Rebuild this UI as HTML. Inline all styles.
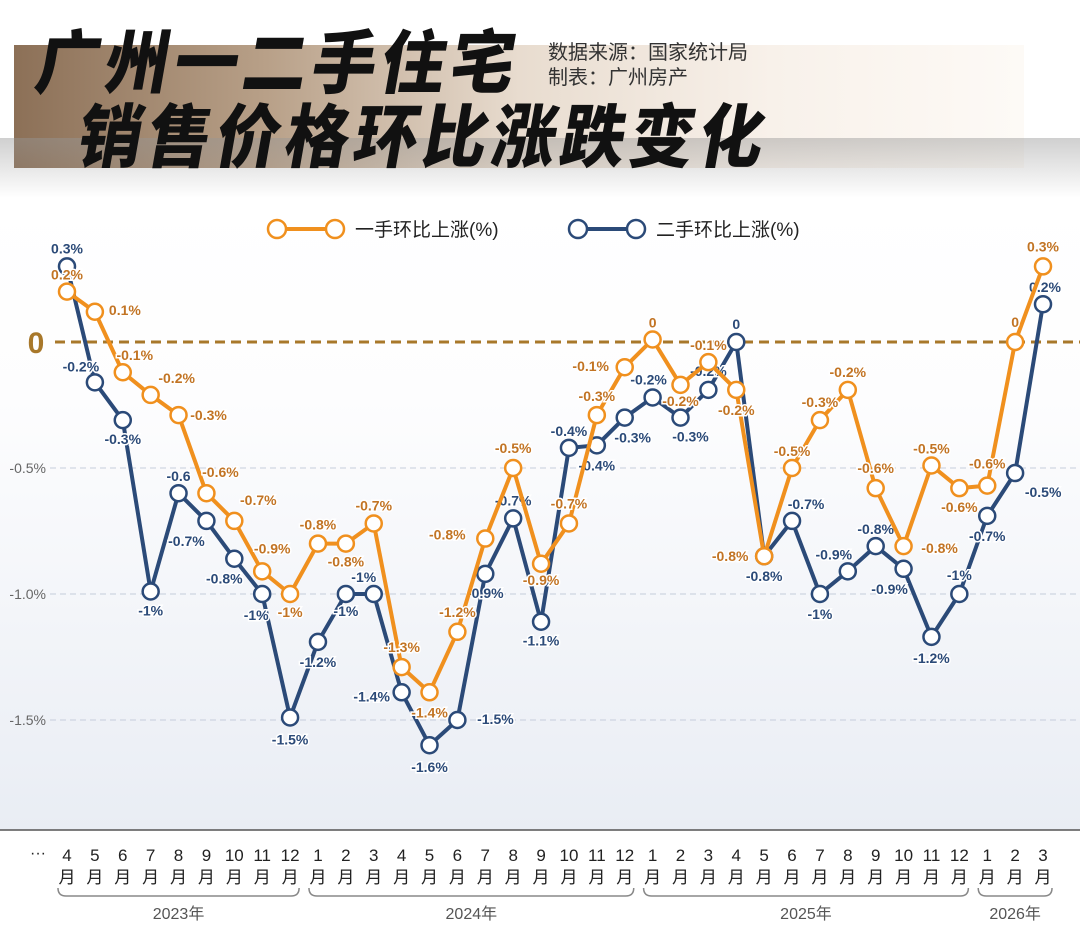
<!DOCTYPE html>
<html><head><meta charset="utf-8">
<style>
body{margin:0;width:1080px;height:934px;overflow:hidden;background:#fff;font-family:"Liberation Sans","Noto Sans CJK SC",sans-serif;}
#wrap{position:relative;width:1080px;height:934px;background:linear-gradient(#fff 0px,#fff 200px,#fdfdfe 400px,#e9edf4 830px,#fff 831px);}
.banner{position:absolute;left:14px;top:45px;width:1010px;height:123px;background:linear-gradient(90deg,#8c7057 0%,#b8a088 25%,#e8dccf 50%,#f8f1ea 75%,#fdfaf6 100%);}
.shade{position:absolute;left:0;top:138px;width:1080px;height:60px;background:linear-gradient(rgba(150,150,150,0.45),rgba(255,255,255,0));}
.t{position:absolute;font-family:"Noto Sans CJK SC","WenQuanYi Zen Hei",sans-serif;font-weight:900;color:#111;transform:skewX(-10deg) scaleY(1.08);transform-origin:left top;letter-spacing:5px;line-height:1;}
.src{position:absolute;left:548px;font-size:20px;color:#333;}
</style></head><body>
<div id="wrap">
<div class="banner"></div>
<div class="shade"></div>
<div class="t" style="left:44px;top:24px;font-size:64px;">广州一二手住宅</div>
<div class="t" style="left:86px;top:98px;font-size:64px;">销售价格环比涨跌变化</div>
<div class="src" style="top:36px;">数据来源：国家统计局</div>
<div class="src" style="top:61px;">制表：广州房产</div>
<svg id="chart" width="1080" height="934" style="position:absolute;left:0;top:0"></svg>
</div>
<script>
const months=["4","5","6","7","8","9","10","11","12","1","2","3","4","5","6","7","8","9","10","11","12","1","2","3","4","5","6","7","8","9","10","11","12","1","2","3"];
const newVals=[0.2,0.12,-0.12,-0.21,-0.29,-0.6,-0.71,-0.91,-1.0,-0.8,-0.8,-0.72,-1.29,-1.39,-1.15,-0.78,-0.5,-0.88,-0.72,-0.29,-0.1,0.01,-0.17,-0.08,-0.19,-0.85,-0.5,-0.31,-0.19,-0.58,-0.81,-0.49,-0.58,-0.57,0,0.3];
const oldVals=[0.3,-0.16,-0.31,-0.99,-0.6,-0.71,-0.86,-1.0,-1.49,-1.19,-1.0,-1.0,-1.39,-1.6,-1.5,-0.92,-0.7,-1.11,-0.42,-0.41,-0.3,-0.22,-0.3,-0.19,0,-0.85,-0.71,-1.0,-0.91,-0.81,-0.9,-1.17,-1.0,-0.69,-0.52,0.15];
const newLabels=["0.2%","0.1%","-0.1%","-0.2%","-0.3%","-0.6%","-0.7%","-0.9%","-1%","-0.8%","-0.8%","-0.7%","-1.3%","-1.4%","-1.2%","-0.8%","-0.5%","-0.9%","-0.7%","-0.3%","-0.1%","0","-0.2%","-0.1%","-0.2%","-0.8%","-0.5%","-0.3%","-0.2%","-0.6%","-0.8%","-0.5%","-0.6%","-0.6%","0","0.3%"];
const oldLabels=["0.3%","-0.2%","-0.3%","-1%","-0.6","-0.7%","-0.8%","-1%","-1.5%","-1.2%","-1%","-1%","-1.4%","-1.6%","-1.5%","-0.9%","-0.7%","-1.1%","-0.4%","-0.4%","-0.3%","-0.2%","-0.3%","-0.2%","0","-0.8%","-0.7%","-1%","-0.9%","-0.8%","-0.9%","-1.2%","-1%","-0.7%","-0.5%","0.2%"];
const yTicks=[-0.5,-1.0,-1.5];
const yTickLabels=["-0.5%","-1.0%","-1.5%"];
const years=["2023年","2024年","2025年","2026年"];
const yearCounts=[9,12,12,3];
// label offsets (layout only)
const newOff=[[0,-17],[30,-2],[12,-17],[26,-17],[30,0],[14,-21],[24,-21],[10,-23],[0,18],[0,-19],[0,18],[0,-18],[0,-20],[0,20],[0,-20],[-38,-4],[0,-20],[0,16],[0,-20],[0,-19],[-34,-1],[0,-17],[0,16],[0,-17],[0,20],[-34,0],[0,-17],[0,-18],[0,-18],[0,-20],[36,2],[0,-17],[0,19],[0,-22],[0,-20],[0,-20]];
const oldOff=[[0,-18],[-14,-16],[0,19],[0,19],[0,-17],[-20,20],[-10,20],[-6,21],[0,22],[0,20],[0,17],[-10,-17],[-30,4],[0,22],[38,-1],[0,19],[0,-18],[0,19],[0,-17],[0,20],[8,20],[-4,-18],[10,19],[0,-19],[0,-18],[0,20],[14,-17],[0,20],[-14,-17],[0,-17],[-14,20],[0,21],[0,-19],[0,20],[28,19],[2,-17]];
const NS="http://www.w3.org/2000/svg";
const svg=document.getElementById('chart');
const X=i=>67+i*27.886;
const Y=v=>342-v*252;
function mk(tag,attrs,parent){const e=document.createElementNS(NS,tag);for(const k in attrs)e.setAttribute(k,attrs[k]);(parent||svg).appendChild(e);return e;}
yTicks.forEach((v,i)=>{
 const l=mk('line',{x1:50,x2:1080,y1:Y(v),y2:Y(v),stroke:'#c5cddb','stroke-width':1,'stroke-dasharray':'6,4'});
 
 
 const t=mk('text',{x:46,y:Y(v)+5,'text-anchor':'end','font-size':14,fill:'#666'});t.textContent=yTickLabels[i];
 
 
});
const z=mk('line',{x1:55,x2:1080,y1:Y(0),y2:Y(0),stroke:'#a8782a','stroke-width':3,'stroke-dasharray':'10,6'});


const zt=mk('text',{x:36,y:Y(0)+11,'text-anchor':'middle','font-size':30,'font-weight':'bold',fill:'#a8782a'});zt.textContent='0';


function legend(x,col,txt,name){
 mk('line',{x1:x,x2:x+58,y1:229,y2:229,stroke:col,'stroke-width':4});
 mk('circle',{cx:x,cy:229,r:9,fill:'#fff',stroke:col,'stroke-width':2.5});
 mk('circle',{cx:x+58,cy:229,r:9,fill:'#fff',stroke:col,'stroke-width':2.5});
 const t=mk('text',{x:x+78,y:236,'font-size':19,fill:'#222'});t.textContent=txt;
 
 
}
legend(277,'#f0901e','一手环比上涨(%)','legend-new-home');
legend(578,'#2b4a78','二手环比上涨(%)','legend-resale-home');
function series(vals,labels,off,col,lcol,name){
 const p=mk('polyline',{points:vals.map((v,i)=>X(i)+','+Y(v)).join(' '),fill:'none',stroke:col,'stroke-width':4,'stroke-linejoin':'round'});
 
 
 vals.forEach((v,i)=>{
  const c=mk('circle',{cx:X(i),cy:Y(v),r:8,fill:'#fff',stroke:col,'stroke-width':2.5});
  
  
 });
 vals.forEach((v,i)=>{
  const t=mk('text',{x:X(i)+off[i][0],y:Y(v)+off[i][1]+5,'text-anchor':'middle','font-size':14,'font-weight':'bold',fill:lcol,stroke:'#fff','stroke-width':3,'paint-order':'stroke'});
  t.textContent=labels[i];
  
  
 });
}
series(oldVals,oldLabels,oldOff,'#2b4a78','#2b4a78','resale');
series(newVals,newLabels,newOff,'#f0901e','#c27424','new-home');
mk('rect',{x:0,y:831,width:1080,height:103,fill:'#fff'});
const ax=mk('line',{x1:0,x2:1080,y1:830,y2:830,stroke:'#555','stroke-width':1.5});


const dots=mk('text',{x:38,y:858,'text-anchor':'middle','font-size':16,fill:'#222'});dots.textContent='···';
months.forEach((m,i)=>{
 const t=mk('text',{x:X(i),y:861,'text-anchor':'middle','font-size':17,fill:'#222'});t.textContent=m;
 
 
 const t2=mk('text',{x:X(i),y:883,'text-anchor':'middle','font-size':17,fill:'#222'});t2.textContent='月';
});
let s=0;
years.forEach((y,k)=>{
 const x1=X(s)-9,x2=X(s+yearCounts[k]-1)+9;
 const br=mk('path',{d:`M${x1},888 Q${x1},896 ${x1+8},896 L${x2-8},896 Q${x2},896 ${x2},888`,fill:'none',stroke:'#888','stroke-width':1.5});
 
 
 const t=mk('text',{x:(x1+x2)/2,y:919,'text-anchor':'middle','font-size':16,fill:'#555'});t.textContent=y;
 
 
 s+=yearCounts[k];
});
</script>
</body></html>
